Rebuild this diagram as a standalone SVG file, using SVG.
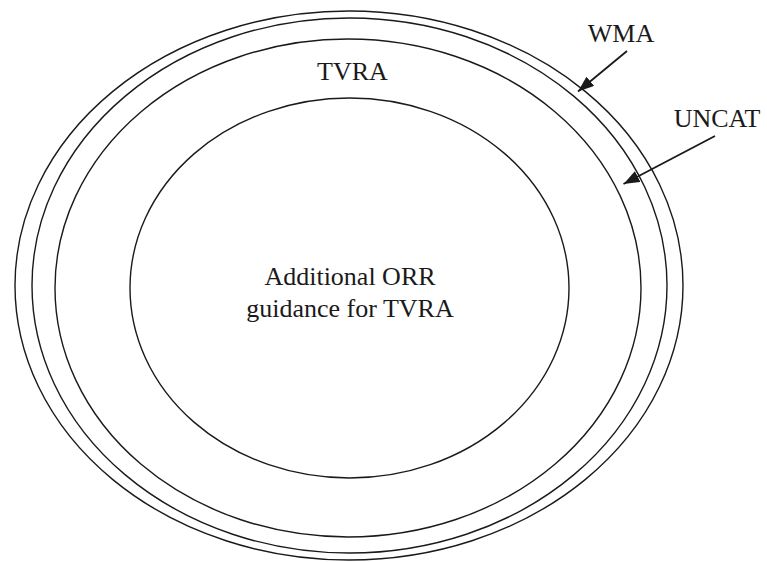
<svg xmlns="http://www.w3.org/2000/svg" width="767" height="562" viewBox="0 0 767 562">
<style>
.ring{fill:none;stroke:#1a1a1a;stroke-width:1.4}
.lbl{font-family:"Liberation Serif","Times New Roman",serif;font-size:26px;fill:#1a1a1a;text-anchor:middle}
.arr{stroke:#1a1a1a;stroke-width:1.8;fill:none}
</style>
<defs>
<marker id="ah" viewBox="0 0 10 10" refX="10" refY="5" markerWidth="8" markerHeight="8" markerUnits="userSpaceOnUse" orient="auto">
<path d="M0,0 L10,5 L0,10 z" fill="#1a1a1a"/>
</marker>
<marker id="ah2" viewBox="0 0 16 12" refX="16" refY="6" markerWidth="16" markerHeight="12" markerUnits="userSpaceOnUse" orient="auto">
<path d="M0,0 L16,6 L0,12 z" fill="#1a1a1a"/>
</marker>
</defs>
<rect width="767" height="562" fill="#ffffff"/>
<g id="wma">
<ellipse class="ring" cx="349" cy="285.5" rx="334" ry="274.5"/>
<text class="lbl" x="621" y="42">WMA</text>
</g>
<g id="uncat">
<ellipse class="ring" cx="349.5" cy="285.5" rx="317.5" ry="267.5"/>
<text class="lbl" x="717" y="127">UNCAT</text>
</g>
<g id="tvra">
<ellipse class="ring" cx="348" cy="288" rx="293" ry="249"/>
<text class="lbl" x="352.5" y="80">TVRA</text>
</g>
<g id="orr">
<ellipse class="ring" cx="349.5" cy="288" rx="219.5" ry="190"/>
<text class="lbl" x="350" y="285">Additional ORR</text>
<text class="lbl" x="350" y="317">guidance for TVRA</text>
</g>
<g id="connectors">
<line class="arr" x1="627" y1="51" x2="578" y2="91.5" marker-end="url(#ah2)"/>
<line class="arr" x1="715" y1="136" x2="623.5" y2="184" marker-end="url(#ah2)"/>
</g>
</svg>
